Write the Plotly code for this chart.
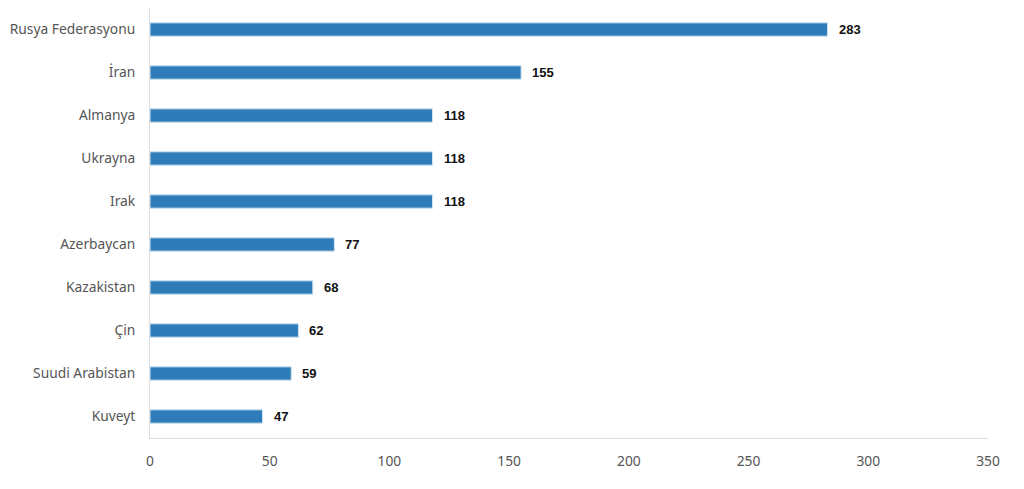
import plotly.graph_objects as go

countries = ["Rusya Federasyonu", "İran", "Almanya", "Ukrayna", "Irak",
             "Azerbaycan", "Kazakistan", "Çin", "Suudi Arabistan", "Kuveyt"]
values = [283, 155, 118, 118, 118, 77, 68, 62, 59, 47]
x_ticks = [0, 50, 100, 150, 200, 250, 300, 350]

fig = go.Figure()
fig.add_trace(go.Bar(
    y=countries, x=values, orientation="h",
    marker=dict(color="#2e7dba", line=dict(color="#cfe3f3", width=1)),
    width=0.31, hoverinfo="x+y",
))
for c, v in zip(countries, values):
    fig.add_annotation(x=v, y=c, text=f"<b>{v}</b>", showarrow=False,
                       xanchor="left", xshift=9,
                       font=dict(family="Liberation Sans, Arial", size=13, color="#111111"))

fig.update_layout(
    width=1016, height=481,
    margin=dict(l=142, r=36, t=0, b=51),
    plot_bgcolor="white", paper_bgcolor="white",
    showlegend=False,
    bargap=0.7,
    font=dict(family="Noto Sans, Open Sans, sans-serif", size=13.8, color="#555555"),
)
fig.update_xaxes(range=[0, 350], tickvals=x_ticks, showgrid=False, zeroline=False,
                 showline=True, linecolor="#dddddd", linewidth=1,
                 ticks="", ticklabelstandoff=10, fixedrange=True)
fig.update_yaxes(categoryorder="array", categoryarray=countries[::-1],
                 showgrid=False, zeroline=False, showline=True,
                 linecolor="#dddddd", linewidth=1, ticks="", ticklabelstandoff=11,
                 fixedrange=True)

fig.write_html("out.html")
